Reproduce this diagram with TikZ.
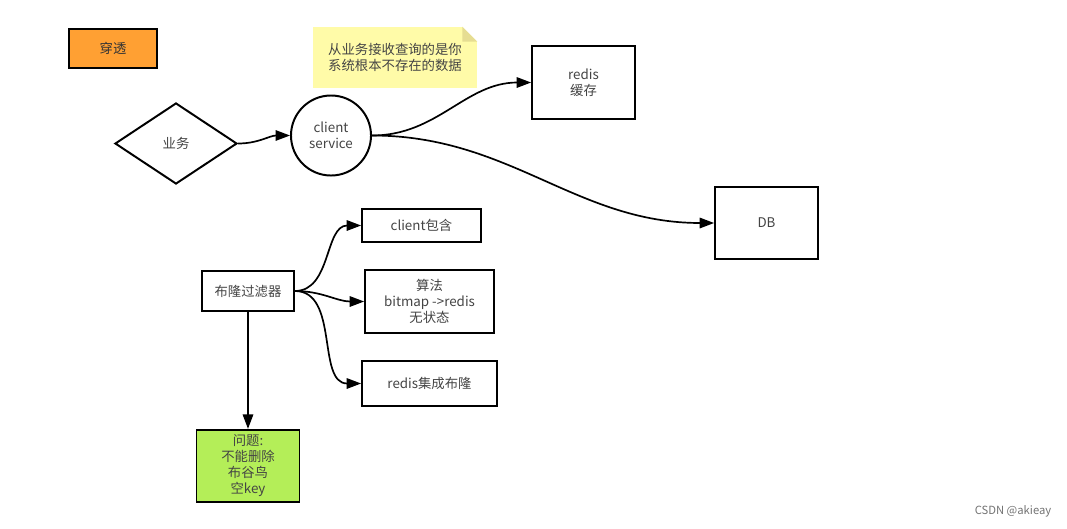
\documentclass[tikz,border=0pt]{standalone}
\usepackage{fontspec}
\setmainfont{Noto Sans CJK SC}
\usepackage{xcolor}
\usepackage{tikz}
\usetikzlibrary{arrows.meta,positioning,shapes.geometric}

\definecolor{orangefill}{HTML}{FFA033}
\definecolor{greenfill}{HTML}{B4EE58}
\definecolor{notefill}{HTML}{FFFBA8}
\definecolor{notefold}{HTML}{E6DD92}
\definecolor{txtgray}{HTML}{444444}

\begin{document}
\begin{tikzpicture}[
x=0.025cm,y=-0.025cm,
font=\fontsize{9.5}{11.5}\selectfont,
box/.style={draw,line width=1.2pt,align=center,inner sep=2pt,text=txtgray},
arr/.style={-{Triangle[length=3.6mm,width=2.6mm]},line width=1.2pt},
node distance=0.72cm
]
\useasboundingbox[fill=white] (0,0) rectangle (1067,528);
% top row
\node[box,fill=orangefill,text=black!80,minimum width=2.2cm,minimum height=0.975cm] (chuantou) at (113,48.5) {穿透};
\node[fill=notefill,minimum width=4.1cm,minimum height=1.525cm,align=center,text=txtgray] (note) at (395,57.5) {从业务接收查询的是你\\系统根本不存在的数据};
\fill[white] (note.north east) -- ++(-15,0) -- ++(15,15) -- cycle;
\fill[notefold] ([xshift=-0.375cm]note.north east) -- ++(0,15) -- ++(15,0) -- cycle;
\node[box,diamond,line width=1.4pt,inner sep=0pt,minimum width=3.05cm,minimum height=2.025cm] (yewu) at (176,143.5) {业务};
\node[box,circle,line width=1.4pt,inner sep=0pt,minimum size=2cm] (client) at (331,135.5) {client\\service};
\node[box,minimum width=2.575cm,minimum height=1.825cm] (redis) at (583.5,82.5) {redis\\缓存};
\node[box,minimum width=2.575cm,minimum height=1.8cm] (db) at (766.5,223) {DB};
% bloom filter
\node[box,minimum width=2.3cm,minimum height=1cm] (bloom) at (248,291) {布隆过滤器};
\node[box,minimum width=2.975cm,minimum height=0.825cm] (contain) at (421.5,225.5) {client包含};
\node[box,minimum width=3.225cm,minimum height=1.575cm] (algo) at (429.5,301.5) {算法\\bitmap ->redis\\无状态};
\node[box,minimum width=3.375cm,minimum height=1.125cm] (rbloom) at (429.5,383.5) {redis集成布隆};
\node[box,fill=greenfill,minimum width=2.575cm,minimum height=1.8cm,below=2.925cm of bloom] (issue) {问题:\\不能删除\\布谷鸟\\空key};
\node[text=black!55,font=\fontsize{8}{9}\selectfont] (mark) at (1013,511) {CSDN @akieay};
% connectors
\draw[arr] (yewu.east) to[out=0,in=180] (client.west);
\draw[arr] (client.east) to[out=0,in=180] (redis.west);
\draw[arr] (client.east) to[out=0,in=180] (db.west);
\draw[arr] (bloom.east) to[out=0,in=180] (contain.west);
\draw[arr] (bloom.east) to[out=0,in=180] (algo.west);
\draw[arr] (bloom.east) to[out=0,in=180] (rbloom.west);
\draw[arr] (bloom) -- (issue);
\end{tikzpicture}
\end{document}
